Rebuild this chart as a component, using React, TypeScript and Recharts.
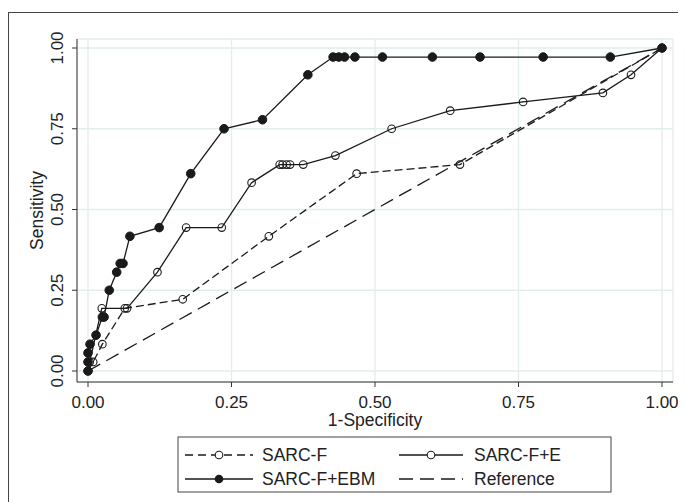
import { LineChart, Line, XAxis, YAxis, CartesianGrid } from "recharts";

// axis ticks
const ticks = [0, 0.25, 0.5, 0.75, 1];

// SARC-F (dashed, hollow markers)
const sarcfX = [0, 0.009, 0.025, 0.064, 0.165, 0.315, 0.468, 0.648, 1];
const sarcfY = [0, 0.028, 0.083, 0.194, 0.222, 0.417, 0.611, 0.639, 1];

// SARC-F+E (solid, hollow markers)
const sarcfeX = [0, 0.003, 0.024, 0.068, 0.121, 0.171, 0.233, 0.285, 0.334, 0.339, 0.346, 0.352, 0.375, 0.431, 0.529, 0.631, 0.758, 0.897, 0.946, 1];
const sarcfeY = [0, 0.028, 0.194, 0.194, 0.306, 0.444, 0.444, 0.583, 0.639, 0.639, 0.639, 0.639, 0.639, 0.667, 0.75, 0.806, 0.833, 0.861, 0.917, 1];

// SARC-F+EBM (solid, filled markers)
const ebmX = [0, 0, 0, 0.0035, 0.014, 0.025, 0.028, 0.037, 0.05, 0.056, 0.061, 0.073, 0.124, 0.179, 0.237, 0.304, 0.383, 0.427, 0.437, 0.447, 0.465, 0.513, 0.6, 0.683, 0.793, 0.91, 1];
const ebmY = [0, 0.028, 0.056, 0.083, 0.111, 0.167, 0.167, 0.25, 0.306, 0.333, 0.333, 0.417, 0.444, 0.611, 0.75, 0.778, 0.917, 0.972, 0.972, 0.972, 0.972, 0.972, 0.972, 0.972, 0.972, 0.972, 1];

// reference diagonal
const refX = [0, 1];
const refY = [0, 1];

const toPoints = (xs: number[], ys: number[]) => xs.map((x, i) => ({ x, y: ys[i] }));

const FONT = "'Liberation Sans', Arial, sans-serif";
const INK = "#1a1a1a";

const hollow = { r: 3.8, fill: "none", stroke: INK, strokeWidth: 1.1, strokeDasharray: "none" };
const solid = { r: 4.3, fill: INK, stroke: INK, strokeWidth: 1, strokeDasharray: "none" };

const YTick = ({ x, y, payload }: any) => (
  <g transform={`translate(${x},${y})`}>
    <text transform="rotate(-90)" x={0} y={-7} textAnchor="middle" fontSize={17} fill="#222" fontFamily={FONT}>
      {payload.value.toFixed(2)}
    </text>
  </g>
);

const YLabel = ({ viewBox }: any) => {
  const cx = viewBox.x + 26;
  const cy = viewBox.y + viewBox.height / 2;
  return (
    <text transform={`rotate(-90, ${cx}, ${cy})`} x={cx} y={cy} textAnchor="middle" fontSize={17.5} fill="#222" fontFamily={FONT}>
      Sensitivity
    </text>
  );
};

const XLabel = ({ viewBox }: any) => (
  <text x={viewBox.x + viewBox.width / 2} y={viewBox.y + 44} textAnchor="middle" fontSize={17.5} fill="#222" fontFamily={FONT}>
    1-Specificity
  </text>
);

const LegendBox = () => {
  const txt = { fontSize: 17.5, fill: "#222", fontFamily: FONT };
  return (
    <svg width={435} height={57} style={{ position: "absolute", left: 169, top: 428 }}>
      <rect x={1} y={1} width={433} height={55} fill="#fff" stroke="#444" strokeWidth={1} />
      {/* SARC-F */}
      <line x1={8} x2={76} y1={19} y2={19} stroke={INK} strokeWidth={1.3} strokeDasharray="8 5" />
      <circle cx={42} cy={19} r={3.8} fill="#fff" stroke={INK} strokeWidth={1.1} />
      <text x={85} y={25} {...txt}>SARC-F</text>
      {/* SARC-F+E */}
      <line x1={222} x2={286} y1={19} y2={19} stroke={INK} strokeWidth={1.3} />
      <circle cx={254} cy={19} r={3.8} fill="#fff" stroke={INK} strokeWidth={1.1} />
      <text x={297} y={25} {...txt}>SARC-F+E</text>
      {/* SARC-F+EBM */}
      <line x1={8} x2={76} y1={43} y2={43} stroke={INK} strokeWidth={1.3} />
      <circle cx={42} cy={43} r={4.3} fill={INK} />
      <text x={85} y={49} {...txt}>SARC-F+EBM</text>
      {/* Reference */}
      <line x1={222} x2={286} y1={43} y2={43} stroke={INK} strokeWidth={1.3} strokeDasharray="14 7" />
      <text x={297} y={49} {...txt}>Reference</text>
    </svg>
  );
};

export default function App() {
  return (
    <div style={{ position: "relative", width: 678, height: 494, background: "#fff" }}>
      <div
        style={{
          position: "absolute",
          left: 0,
          top: 4,
          right: 0,
          bottom: 0,
          borderLeft: "1.5px solid #444",
          borderTop: "1.5px solid #444",
        }}
      />
      <div style={{ position: "absolute", left: 0, top: 0 }}>
        <LineChart width={678} height={494} margin={{ top: 31, right: 13, left: 9, bottom: 70 }}>
          <CartesianGrid stroke="#e3eded" strokeWidth={1.3} />
          <XAxis
            type="number"
            dataKey="x"
            domain={[0, 1]}
            ticks={ticks}
            tickFormatter={(v: number) => v.toFixed(2)}
            padding={{ left: 11, right: 11 }}
            height={50}
            tickSize={5}
            tickMargin={9}
            stroke="#333"
            tick={{ fill: "#222", fontSize: 17, fontFamily: FONT }}
            label={XLabel}
          />
          <YAxis
            type="number"
            dataKey="y"
            domain={[0, 1]}
            ticks={ticks}
            padding={{ top: 9, bottom: 11 }}
            width={60}
            tickSize={5}
            stroke="#333"
            tick={YTick}
            label={YLabel}
          />
          <Line data={toPoints(refX, refY)} dataKey="y" stroke={INK} strokeWidth={1.3} strokeDasharray="14 7" dot={false} isAnimationActive={false} />
          <Line data={toPoints(sarcfX, sarcfY)} dataKey="y" stroke={INK} strokeWidth={1.3} strokeDasharray="8 4" dot={hollow} isAnimationActive={false} />
          <Line data={toPoints(sarcfeX, sarcfeY)} dataKey="y" stroke={INK} strokeWidth={1.3} dot={hollow} isAnimationActive={false} />
          <Line data={toPoints(ebmX, ebmY)} dataKey="y" stroke={INK} strokeWidth={1.3} dot={solid} isAnimationActive={false} />
        </LineChart>
      </div>
      <LegendBox />
    </div>
  );
}
